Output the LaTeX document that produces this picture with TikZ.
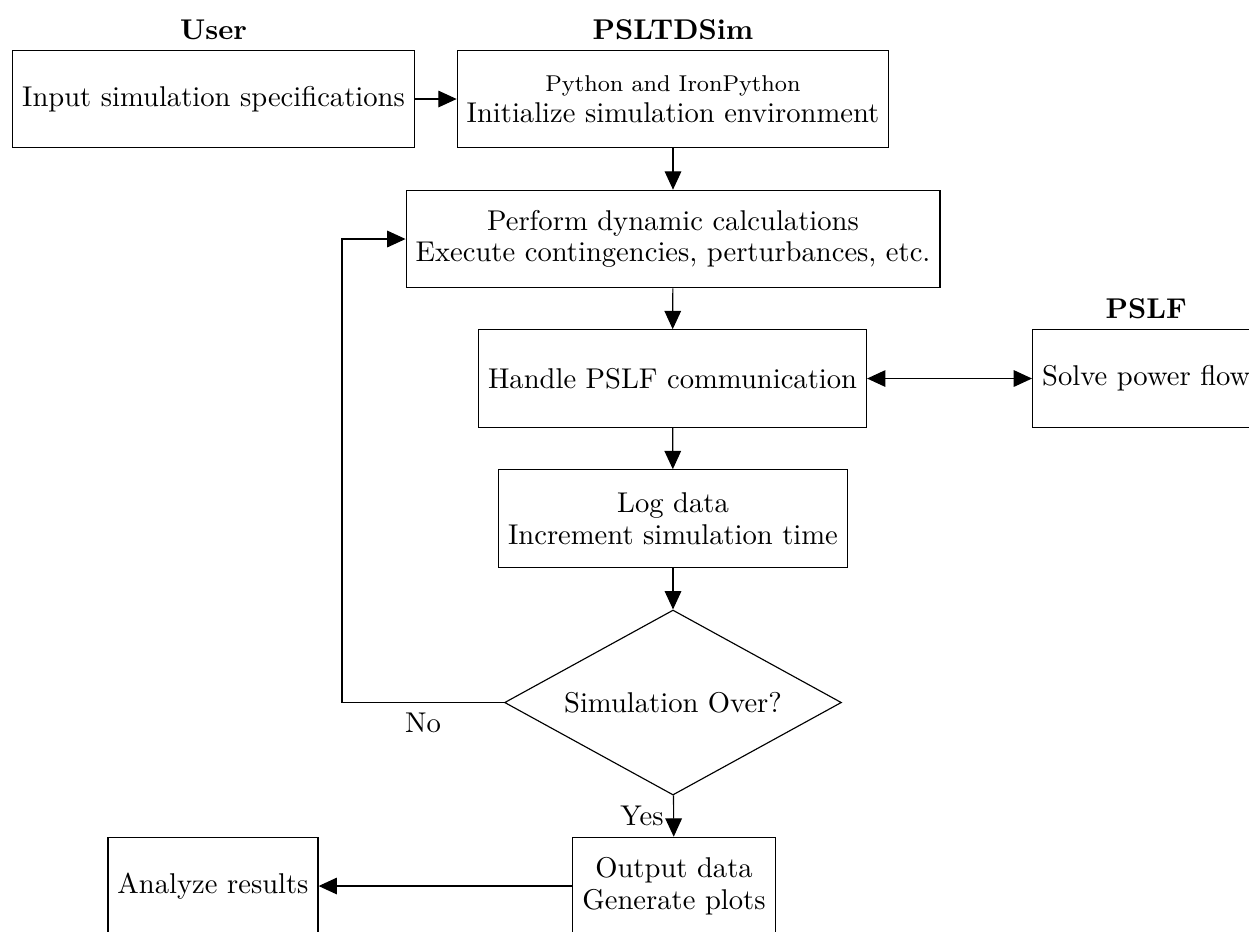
\documentclass[tikz,border=0pt]{standalone}
\usetikzlibrary{arrows.meta,shapes.geometric}
\begin{document}
\begin{tikzpicture}[x=0.3497pt,y=-0.3497pt,
  >={Triangle[length=6.4pt,width=5.8pt]},
  box/.style={draw, minimum height=34.1pt, align=center, inner sep=3.33pt, font=\fontsize{10}{11}\selectfont},
  decbox/.style={diamond, draw, minimum width=117.8pt, minimum height=64.7pt, inner sep=0pt, aspect=1.8},
  lbl/.style={font=\bfseries, anchor=south},
  arr/.style={->, line width=0.4pt},
  darr/.style={<->, line width=0.4pt}]
\useasboundingbox (0,0) rectangle (1249,931);
% boxes
\node[box] (user) at (213.5,99) {Input simulation specifications};
\node[box] (init) at (673,99) {{\footnotesize Python and IronPython}\\Initialize simulation environment};
\node[box] (perform) at (673,239) {Perform dynamic calculations\\Execute contingencies, perturbances, etc.};
\node[box] (handle) at (672.5,378.5) {Handle PSLF communication};
\node[box, anchor=west] (solve) at (1032,378.5) {Solve power flow};
\node[box] (log) at (673,518.5) {Log data\\Increment simulation time};
\node[decbox] (dec) at (673,702.5) {Simulation Over?};
\node[box] (out) at (674,886) {Output data\\Generate plots};
\node[box] (ana) at (213,886) {Analyze results};
% column labels
\node[lbl] (userlbl) at (user.north) {User};
\node[lbl] (simlbl) at (init.north) {PSLTDSim};
\node[lbl] (pslflbl) at (solve.north) {PSLF};
% connectors
\draw[arr] (user) -- (init);
\draw[arr] (init) -- (perform);
\draw[arr] (perform) -- (handle);
\draw[darr] (handle) -- (solve);
\draw[arr] (handle) -- (log);
\draw[arr] (log) -- (dec);
\draw[arr] (dec) -- node[left] (yeslbl) {Yes} (out);
\draw[arr] (out) -- (ana);
\coordinate (fb) at (342,702.5);
\draw[arr] (dec.west) -- node[below] (nolbl) {No} (fb) |- (perform.west);
\end{tikzpicture}
\end{document}
